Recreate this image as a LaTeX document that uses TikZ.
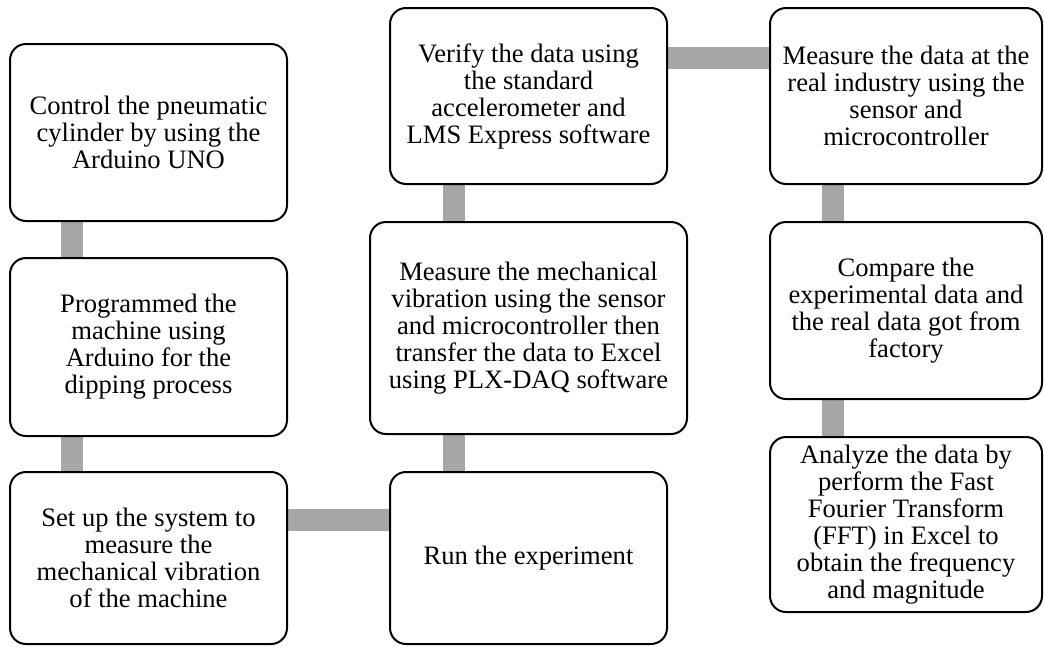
\documentclass[tikz,border=0pt]{standalone}
\usepackage{fontspec}
\setmainfont{Liberation Serif}
\usetikzlibrary{backgrounds}
\begin{document}
\begin{tikzpicture}[x=1pt,y=-1pt,
  stepbox/.style={draw=black, line width=2pt, rounded corners=16pt, fill=white,
    align=center, inner sep=0pt, font=\fontsize{26.6}{27}\selectfont},
  link/.style={draw=black!35, line width=22pt}]
\useasboundingbox (0,0) rectangle (1044,646);

% left column
\node[stepbox, minimum width=277pt, minimum height=177pt] (A) at (148.5,132.5)
  {Control the pneumatic\\cylinder by using the\\Arduino UNO};
\node[stepbox, minimum width=277pt, minimum height=178pt] (B) at (148.5,347)
  {Programmed the\\machine using\\Arduino for the\\dipping process};
\node[stepbox, minimum width=277pt, minimum height=172pt] (C) at (148.5,558)
  {Set up the system to\\measure the\\mechanical vibration\\of the machine};

% middle column
\node[stepbox, minimum width=277pt, minimum height=176pt] (D) at (528.5,96)
  {Verify the data using\\the standard\\accelerometer and\\LMS Express software};
\node[stepbox, minimum width=317pt, minimum height=212pt] (E) at (528.5,328)
  {Measure the mechanical\\vibration using the sensor\\and microcontroller then\\transfer the data to Excel\\using PLX-DAQ software};
\node[stepbox, minimum width=277pt, minimum height=172pt] (F) at (528.5,558)
  {Run the experiment};

% right column
\node[stepbox, minimum width=272pt, minimum height=176pt] (G) at (906,96)
  {Measure the data at the\\real industry using the\\sensor and\\microcontroller};
\node[stepbox, minimum width=272pt, minimum height=177pt] (H) at (906,310.5)
  {Compare the\\experimental data and\\the real data got from\\factory};
\node[stepbox, minimum width=272pt, minimum height=175pt] (I) at (906,524.5)
  {Analyze the data by\\perform the Fast\\Fourier Transform\\(FFT) in Excel to\\obtain the frequency\\and magnitude};

% grey connecting bars behind the boxes
\begin{pgfonlayer}{background}
  \draw[link] (A.south -| 72,0) -- (B.north -| 72,0);
  \draw[link] (B.south -| 72,0) -- (C.north -| 72,0);
  \draw[link] (C.east |- 0,520) -- (F.west |- 0,520);
  \draw[link] (F.north -| 454,0) -- (E.south -| 454,0);
  \draw[link] (E.north -| 454,0) -- (D.south -| 454,0);
  \draw[link] (D.east |- 0,58) -- (G.west |- 0,58);
  \draw[link] (G.south -| 833,0) -- (H.north -| 833,0);
  \draw[link] (H.south -| 833,0) -- (I.north -| 833,0);
\end{pgfonlayer}
\end{tikzpicture}
\end{document}
